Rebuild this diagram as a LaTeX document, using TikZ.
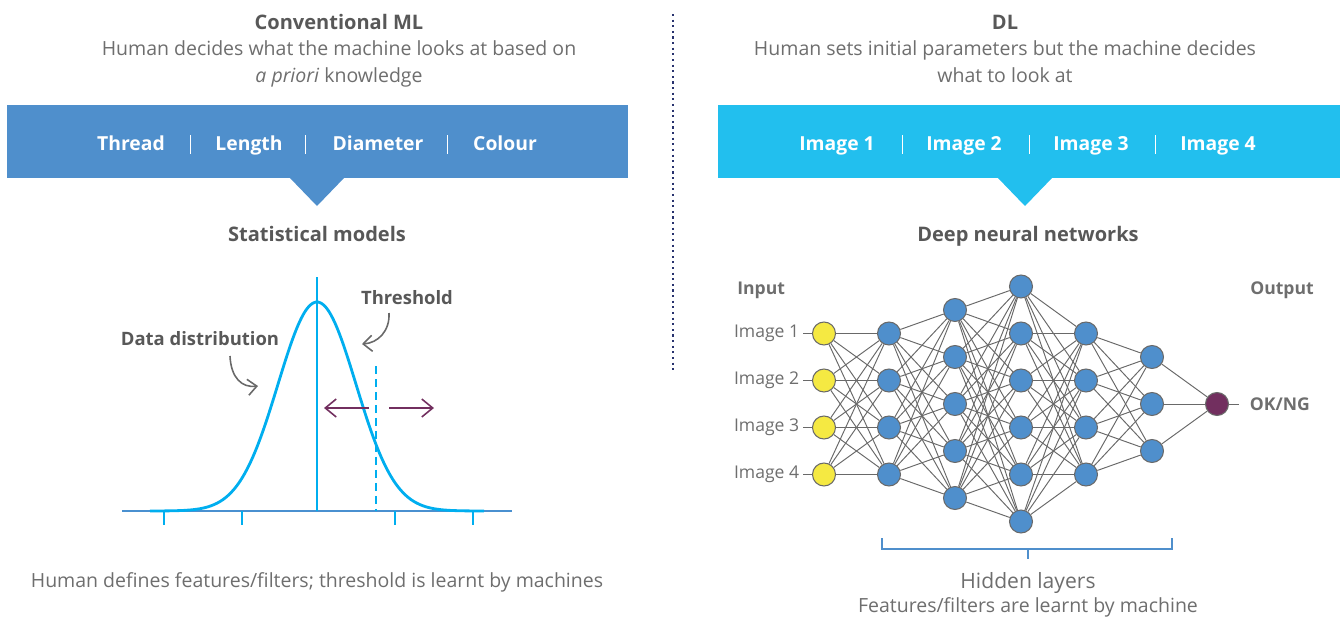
\documentclass[tikz,border=0pt]{standalone}
\usepackage{fontspec}
\setmainfont{Open Sans}
\usetikzlibrary{calc,positioning,arrows,arrows.meta,shapes,fit,backgrounds}
\definecolor{bannerblue}{RGB}{79,143,204}
\definecolor{bannercyan}{RGB}{34,191,238}
\definecolor{curvecyan}{RGB}{0,174,239}
\definecolor{axisblue}{RGB}{74,144,208}
\definecolor{titlegray}{RGB}{88,88,88}
\definecolor{textgray}{RGB}{110,110,110}
\definecolor{edgegray}{RGB}{105,105,105}
\definecolor{nodeyellow}{RGB}{245,233,66}
\definecolor{outpurple}{RGB}{114,47,95}
\definecolor{dividernavy}{RGB}{40,50,110}
\tikzset{
    heading/.style={
        font=\bfseries\fontsize{11.4}{13}\selectfont,
        text=titlegray,
        inner sep=0pt,
        anchor=base,
    },
    label text/.style={
        font=\bfseries\fontsize{10.5}{13}\selectfont,
        text=titlegray,
        inner sep=0pt,
    },
    subheading/.style={
        font=\fontsize{11.1}{13}\selectfont,
        text=textgray,
        inner sep=0pt,
        anchor=base,
    },
    small text/.style={
        font=\fontsize{10}{12}\selectfont,
        text=textgray,
        inner sep=0pt,
    },
    banner text/.style={
        font=\bfseries\fontsize{11}{13}\selectfont,
        text=white,
        inner sep=0pt,
        anchor=base,
    },
    separator/.style={
        draw=white,
        line width=0.5pt,
    },
    neuron/.style={
        circle,
        draw=edgegray,
        line width=0.6pt,
        minimum size=0.46cm,
        inner sep=0pt,
        fill=bannerblue,
    },
    edge/.style={
        draw=edgegray,
        line width=0.55pt,
    },
    hint/.style={
        draw=edgegray,
        line width=0.9pt,
        -{Straight Barb[length=1.8mm,width=3.2mm]},
    },
    shift arrow/.style={
        draw=outpurple,
        line width=0.9pt,
        -{Straight Barb[length=2.2mm,width=3.6mm]},
    },
    bell/.style={
        draw=curvecyan,
        line width=1.6pt,
    },
}
\begin{document}
\begin{tikzpicture}[x=0.02cm,y=-0.02cm]
    \useasboundingbox (0,0) rectangle (1340,619);

    % left half: conventional ML
    \node[heading](cml) at (339,29) {Conventional ML};
    \node[subheading](cmlsub1) at (339,55) {Human decides what the machine looks at based on};
    \node[subheading](cmlsub2) at (339,82) {\textit{a priori} knowledge};
    \fill[bannerblue] (7,105) rectangle (628,178);
    \fill[bannerblue] (289,177) -- (317,206) -- (345,177) -- cycle;
    \node[banner text](thread) at (131,150) {Thread};
    \node[banner text](length) at (249,150) {Length};
    \node[banner text](diameter) at (378,150) {Diameter};
    \node[banner text](colour) at (505,150) {Colour};
    \foreach \x in {190,305,447}
        \draw[separator] (\x,135) -- (\x,154);
    \node[heading](stat) at (317,241) {Statistical models};

    % bell curve
    \draw[axisblue,line width=1.6pt] (122,511) -- (512,511);
    \foreach \x in {164,242,395,473}
        \draw[curvecyan,line width=1.6pt] (\x,511) -- (\x,525);
    \draw[bell] plot[domain=150:484,samples=120,smooth] (\x,{511-209*exp(-0.5*((\x-317)/39)*((\x-317)/39))});
    \draw[curvecyan,line width=1.6pt] (317,277) -- (317,511);
    \draw[curvecyan,line width=1.6pt,dash pattern=on 0.16cm off 0.1cm] (376,366) -- (376,511);
    \coordinate (lefttip) at (324,408);
    \coordinate (righttip) at (434,408);
    \draw[shift arrow] (369,408) -- (lefttip);
    \draw[shift arrow] (389,408) -- (righttip);
    \node[label text](distr) at (200,339) {Data distribution};
    \node[label text](thresh) at (407,298) {Threshold};
    \coordinate (distrend) at (258,386);
    \coordinate (threshend) at (362,344);
    \draw[hint] (230,356) .. controls (231,378) and (242,388) .. (distrend);
    \draw[hint] (389,313) .. controls (390,331) and (378,343) .. (threshend);
    \node[subheading](cmlfoot) at (317,587) {Human defines features/filters; threshold is learnt by machines};

    % divider
    \draw[dividernavy,line width=1.2pt,dotted] (673,14) -- (673,370);

    % right half: DL
    \node[heading](dl) at (1005,29) {DL};
    \node[subheading](dlsub1) at (1005,55) {Human sets initial parameters but the machine decides};
    \node[subheading](dlsub2) at (1005,82) {what to look at};
    \fill[bannercyan] (718,105) rectangle (1340,178);
    \fill[bannercyan] (997,177) -- (1025,206) -- (1053,177) -- cycle;
    \node[banner text](img1) at (837,150) {Image 1};
    \node[banner text](img2) at (964,150) {Image 2};
    \node[banner text](img3) at (1091,150) {Image 3};
    \node[banner text](img4) at (1218,150) {Image 4};
    \foreach \x in {902,1029,1155}
        \draw[separator] (\x,135) -- (\x,154);
    \node[heading](dnn) at (1028,241) {Deep neural networks};

    % network
    \foreach \l/\x/\n/\c in {0/824/4/nodeyellow,1/889/4/bannerblue,2/955/5/bannerblue,3/1021/6/bannerblue,4/1086/4/bannerblue,5/1152/3/bannerblue}
        \foreach \i in {1,...,\n}
            \node[neuron,fill=\c](n\l-\i) at (\x,{404+(\i-(\n+1)/2)*47}) {};
    \node[neuron,fill=outpurple](out) at (1217,404) {};
    \begin{scope}[on background layer]
        \foreach \a/\na/\b/\nb in {0/4/1/4,1/4/2/5,2/5/3/6,3/6/4/4,4/4/5/3}
            \foreach \i in {1,...,\na}
                \foreach \j in {1,...,\nb}
                    \draw[edge] (n\a-\i) -- (n\b-\j);
        \foreach \j in {1,2,3}
            \draw[edge] (n5-\j) -- (out);
    \end{scope}
    \node[small text,font=\bfseries\fontsize{10}{12}\selectfont,anchor=west](input) at (737,290) {Input};
    \node[small text,font=\bfseries\fontsize{10}{12}\selectfont](output) at (1282,290) {Output};
    \foreach \i in {1,...,4} {
        \node[small text,anchor=east,inner xsep=2pt](lab\i) at (803,{404+(\i-2.5)*47}) {Image \i};
        \draw[edge] (lab\i) -- (n0-\i);
    }
    \node[small text,font=\bfseries\fontsize{10}{12}\selectfont,anchor=west,inner xsep=6pt](okng) at (1239,404) {OK/NG};
    \draw[edge] (out) -- (okng);

    % hidden layers bracket
    \draw[bannerblue,line width=1.4pt] (882,538) -- (882,549) -- (1172,549) -- (1172,538);
    \draw[bannerblue,line width=1.4pt] (1028,549) -- (1028,559);
    \node[subheading,font=\fontsize{12}{14}\selectfont](hidden) at (1028,588) {Hidden layers};
    \node[subheading](hiddensub) at (1028,612) {Features/filters are learnt by machine};
\end{tikzpicture}
\end{document}
